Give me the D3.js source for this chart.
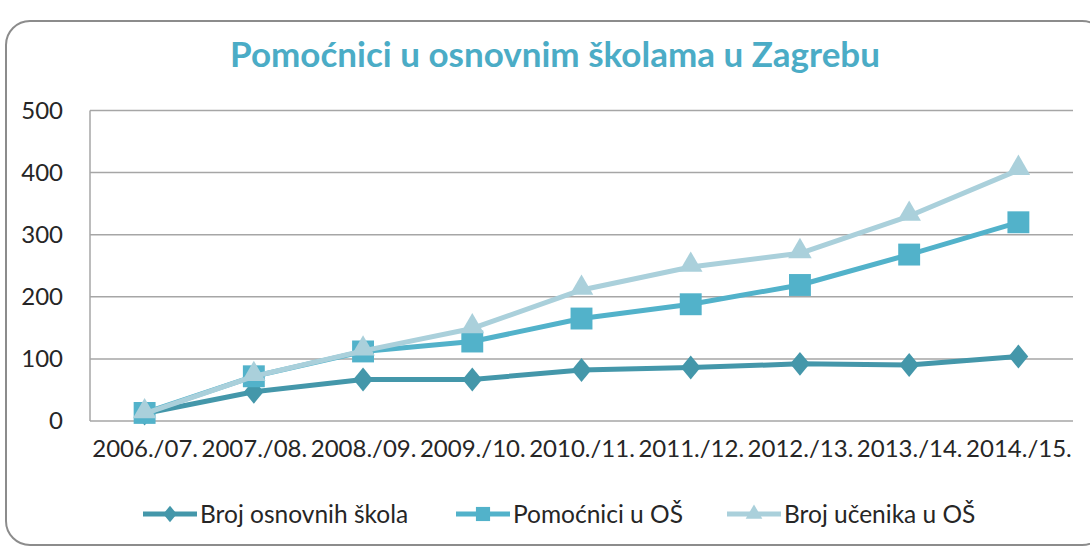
<!DOCTYPE html>
<meta charset="utf-8">
<head>
  <title>Pomoćnici u osnovnim školama u Zagrebu</title>
</head>

<style>
  body { margin: 0; background: #fff; }
  text { font-family: Lato, "Open Sans", sans-serif; fill: #262626; }
</style>

<body>
  <svg width="1090" height="548"></svg>

  <script src="https://cdnjs.cloudflare.com/ajax/libs/d3/7.8.5/d3.min.js"></script>

  <script>
  var years = ['2006./07.', '2007./08.', '2008./09.', '2009./10.', '2010./11.',
               '2011./12.', '2012./13.', '2013./14.', '2014./15.'];
  var yTicks = [0, 100, 200, 300, 400, 500];

  var seriesNames = ['Broj osnovnih škola', 'Pomoćnici u OŠ', 'Broj učenika u OŠ'];
  var skole   = [12, 47, 67, 67, 82, 86, 92, 90, 104];
  var pomocnici = [13, 72, 112, 128, 165, 188, 219, 268, 320];
  var ucenici = [12, 72, 113, 149, 211, 248, 270, 330, 404];

  var colors = ['#4497aa', '#52b2ca', '#aad0db'];

  // wider diamond than d3.symbolDiamond (Excel style)
  var wideDiamond = {
    draw: function(ctx, size) {
      var h = Math.sqrt(size / 1.6), w = h * 0.82;
      ctx.moveTo(0, -h);
      ctx.lineTo(w, 0);
      ctx.lineTo(0, h);
      ctx.lineTo(-w, 0);
      ctx.closePath();
    }
  };
  var symbols = [wideDiamond, d3.symbolSquare, d3.symbolTriangle];

  var svg = d3.select('svg');

  // rounded frame
  svg.append('rect')
    .attr('x', 6).attr('y', 21)
    .attr('width', 1100).attr('height', 524)
    .attr('rx', 24)
    .style('fill', 'none')
    .style('stroke', '#8c8c8c')
    .style('stroke-width', 2);

  svg.append('text')
    .attr('x', 555).attr('y', 67)
    .attr('text-anchor', 'middle')
    .style('font-size', '35px')
    .style('font-weight', 'bold')
    .style('fill', '#4bacc6')
    .text('Pomoćnici u osnovnim školama u Zagrebu');

  var plotL = 90, plotR = 1073, plotT = 110.5, plotB = 421;

  var x = d3.scalePoint().domain(years).range([plotL, plotR]).padding(0.5);
  var y = d3.scaleLinear().domain([0, 500]).range([plotB, plotT]);

  // grid
  svg.append('g').selectAll('line')
    .data(yTicks)
    .enter().append('line')
    .attr('x1', plotL).attr('x2', plotR)
    .attr('y1', function(d) { return y(d); })
    .attr('y2', function(d) { return y(d); })
    .style('stroke', '#a6a6a6')
    .style('stroke-width', 1.5);

  svg.append('line')
    .attr('x1', plotL).attr('x2', plotL)
    .attr('y1', plotT).attr('y2', plotB)
    .style('stroke', '#a6a6a6')
    .style('stroke-width', 1.5);

  var yAxis = svg.append('g')
    .attr('transform', 'translate(' + plotL + ',0)')
    .call(d3.axisLeft(y).tickValues(yTicks).tickSize(0).tickPadding(27));
  yAxis.select('.domain').remove();
  yAxis.selectAll('text').style('font-size', '24px').attr('font-family', null);

  var xAxis = svg.append('g')
    .attr('transform', 'translate(0,' + plotB + ')')
    .call(d3.axisBottom(x).tickSize(0).tickPadding(19));
  xAxis.select('.domain').remove();
  xAxis.selectAll('text').style('font-size', '24px').attr('font-family', null);

  var data = [skole, pomocnici, ucenici];
  var sizes = [230, 480, 240];

  var line = d3.line()
    .x(function(d, i) { return x(years[i]); })
    .y(function(d) { return y(d); });

  data.forEach(function(vals, k) {
    var g = svg.append('g');
    g.append('path')
      .attr('d', line(vals))
      .style('fill', 'none')
      .style('stroke', colors[k])
      .style('stroke-width', 5)
      .style('stroke-linejoin', 'round');
    g.selectAll('path.pt')
      .data(vals)
      .enter().append('path')
      .attr('class', 'pt')
      .attr('transform', function(d, i) {
        var dy = k == 2 ? -2 : 0;
        return 'translate(' + x(years[i]) + ',' + (y(d) + dy) + ')';
      })
      .attr('d', d3.symbol().type(symbols[k]).size(sizes[k]))
      .style('fill', colors[k]);
  });

  // legend
  var legX = [143, 456, 727];
  var legY = 514;
  var leg = svg.append('g').selectAll('g')
    .data(seriesNames)
    .enter().append('g')
    .attr('transform', function(d, i) { return 'translate(' + legX[i] + ',' + legY + ')'; });

  leg.append('line')
    .attr('x1', 0).attr('x2', 54)
    .style('stroke', function(d, i) { return colors[i]; })
    .style('stroke-width', 5);
  leg.append('path')
    .attr('transform', 'translate(27,0)')
    .attr('d', function(d, i) { return d3.symbol().type(symbols[i]).size([110, 200, 120][i])(); })
    .style('fill', function(d, i) { return colors[i]; });
  leg.append('text')
    .attr('x', 57).attr('y', 8.5)
    .style('font-size', '24.5px')
    .text(function(d) { return d; });
  </script>
</body>
</html>
